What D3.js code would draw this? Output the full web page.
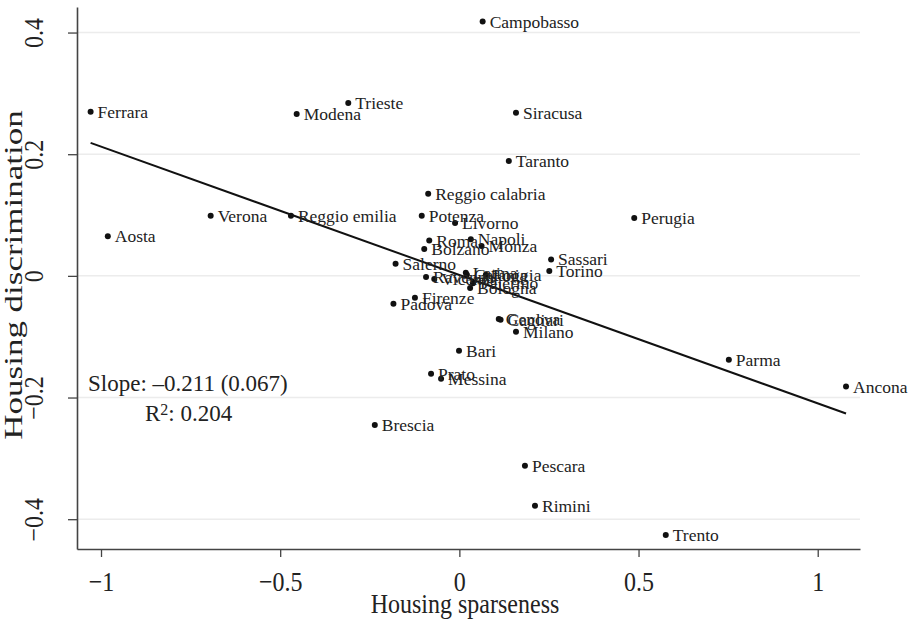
<!DOCTYPE html>
<html>
<head>
<meta charset="utf-8">
<title>Housing sparseness vs discrimination</title>
<script src="https://cdn.jsdelivr.net/npm/d3@7"></script>
<style>
  body { margin: 0; background: #fff; }
  text { font-family: "Liberation Serif", "Times New Roman", serif; fill: #222; }
</style>
</head>
<body>
<script>
// city, sparseness (x), discrimination (y)
var cities = ["Ferrara", "Aosta", "Verona", "Reggio emilia", "Modena", "Trieste", "Brescia",
  "Padova", "Salerno", "Firenze", "Potenza", "Bolzano", "Reggio calabria", "Roma", "Ravenna",
  "Vicenza", "Prato", "Messina", "Livorno", "Bari", "Latina", "Catania", "Bologna", "Palermo",
  "Napoli", "Campobasso", "Monza", "Foggia", "Genova", "Cagliari", "Taranto", "Milano",
  "Siracusa", "Pescara", "Rimini", "Torino", "Sassari", "Perugia", "Trento", "Parma", "Ancona"];
var sparseness = [-1.029, -0.981, -0.694, -0.470, -0.454, -0.310, -0.236,
  -0.184, -0.178, -0.124, -0.105, -0.098, -0.087, -0.084, -0.093,
  -0.070, -0.079, -0.051, -0.012, -0.001, 0.018, 0.021, 0.030, 0.038,
  0.032, 0.065, 0.062, 0.074, 0.110, 0.115, 0.138, 0.158,
  0.158, 0.183, 0.211, 0.251, 0.256, 0.488, 0.576, 0.752, 1.079];
var discrimination = [0.270, 0.065, 0.099, 0.099, 0.266, 0.284, -0.245,
  -0.046, 0.020, -0.036, 0.099, 0.044, 0.135, 0.058, -0.002,
  -0.005, -0.161, -0.169, 0.087, -0.123, 0.005, 0.002, -0.020, -0.012,
  0.060, 0.418, 0.049, 0.002, -0.071, -0.072, 0.189, -0.092,
  0.268, -0.312, -0.378, 0.008, 0.027, 0.095, -0.426, -0.138, -0.182];

var xTicks = [-1, -0.5, 0, 0.5, 1];
var yTicks = [-0.4, -0.2, 0, 0.2, 0.4];

// fitted line
var slope = -0.211, intercept = 0.0015;
var slopeText = "Slope: \u20130.211 (0.067)";
var r2Value = "0.204";

function fmt(v) {
  return v === 0 ? "0" : (v < 0 ? "\u2212" : "") + Math.abs(v);
}

function main() {
  var width = 912, height = 621;

  var svg = d3.select("body").append("svg")
      .attr("width", width)
      .attr("height", height);

  var x = d3.scaleLinear().domain([-1.067, 1.118]).range([77, 860]);
  var y = d3.scaleLinear().domain([-0.449, 0.442]).range([549, 7]);

  // grid lines
  svg.append("g").selectAll("line")
      .data(yTicks)
      .enter().append("line")
      .attr("x1", 78).attr("x2", 860)
      .attr("y1", function (d) { return y(d); })
      .attr("y2", function (d) { return y(d); })
      .attr("stroke", "#ececec")
      .attr("stroke-width", 1.5);

  // axes
  var xAxis = svg.append("g")
      .attr("transform", "translate(0,549)")
      .call(d3.axisBottom(x).tickValues(xTicks).tickSize(8).tickSizeOuter(0).tickFormat(fmt));
  var yAxis = svg.append("g")
      .attr("transform", "translate(77,0)")
      .call(d3.axisLeft(y).tickValues(yTicks).tickSize(9).tickSizeOuter(0).tickFormat(fmt));

  [xAxis, yAxis].forEach(function (g) {
    g.select(".domain").attr("stroke", "#444").attr("stroke-width", 1.6);
    g.selectAll(".tick line").attr("stroke", "#444").attr("stroke-width", 1.3);
    g.selectAll(".tick text").attr("font-family", "Liberation Serif").attr("font-size", 24).attr("fill", "#222");
  });
  xAxis.selectAll(".tick text").attr("y", 0).attr("dy", 0)
      .attr("transform", "translate(0,42) scale(1,1.15)");
  yAxis.selectAll(".tick text")
      .attr("x", 0).attr("dy", 0)
      .attr("text-anchor", "middle")
      .attr("transform", "translate(-34,0) rotate(-90) scale(1,1.15)");

  // axis titles
  svg.append("text")
      .attr("transform", "translate(465,613) scale(1,1.15)")
      .attr("text-anchor", "middle")
      .attr("font-size", 24)
      .text("Housing sparseness");
  svg.append("text")
      .attr("transform", "translate(21.5,275) rotate(-90) scale(1,0.7)")
      .attr("text-anchor", "middle")
      .attr("font-size", 35)
      .text("Housing discrimination");

  // regression line
  var xMin = d3.min(sparseness), xMax = d3.max(sparseness);
  svg.append("line")
      .attr("x1", x(xMin)).attr("y1", y(intercept + slope * xMin))
      .attr("x2", x(xMax)).attr("y2", y(intercept + slope * xMax))
      .attr("stroke", "#111")
      .attr("stroke-width", 2);

  var rows = cities.map(function (c, i) {
    return { name: c, x: sparseness[i], y: discrimination[i] };
  });

  // points
  svg.append("g").selectAll("circle")
      .data(rows)
      .enter().append("circle")
      .attr("cx", function (d) { return x(d.x); })
      .attr("cy", function (d) { return y(d.y); })
      .attr("r", 3)
      .attr("fill", "#111");

  // labels
  svg.append("g").selectAll("text")
      .data(rows)
      .enter().append("text")
      .attr("x", function (d) { return x(d.x) + 7; })
      .attr("y", function (d) { return y(d.y) + 6; })
      .attr("font-size", 17.5)
      .text(function (d) { return d.name; });

  // annotation
  svg.append("text")
      .attr("x", 88).attr("y", 391)
      .attr("font-size", 23)
      .text(slopeText);
  var r2 = svg.append("text")
      .attr("x", 145).attr("y", 421)
      .attr("font-size", 23);
  r2.append("tspan").text("R");
  r2.append("tspan").attr("dy", -6).attr("font-size", 16).text("2");
  r2.append("tspan").attr("dy", 6).text(": " + r2Value);
}

window.onload = function () {
  main();
};
</script>
</body>
</html>
